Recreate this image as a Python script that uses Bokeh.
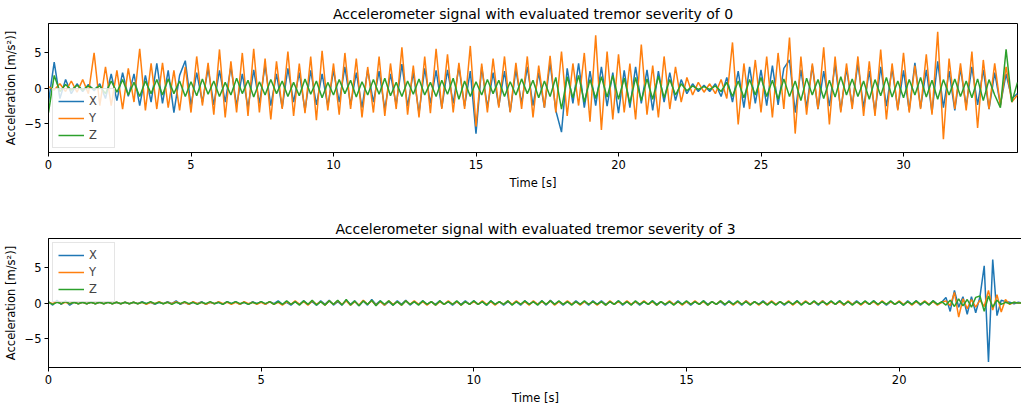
import numpy as np
from bokeh.plotting import figure
from bokeh.layouts import column
from bokeh.models import Range1d, FixedTicker, Legend, LegendItem
from bokeh.embed import file_html
from bokeh.resources import INLINE

# ---------------- data: severity 0 (sampled every 0.2 s, 0 .. 34 s) ----------------
dt_top = 0.2
top_x = [
    -2.0, 3.7, -1.5, 1.2, -0.8, 0.6, -0.5, 0.5, -0.4, 0.6,
    -1.5, 2.0, -1.8, 2.2, -1.2, 2.0, -2.5, 1.8, -2.0, 3.5,
    -2.2, 2.5, -3.5, 1.8, 3.9, -2.5, 2.2, -2.0, 2.8, -2.4,
    2.5, -2.0, 3.0, -2.5, 2.0, -2.8, 2.6, -2.2, 3.2, -2.5,
    2.0, -2.8, 2.8, -2.0, 2.2, -3.2, 2.5, -2.4, 2.0, -2.6,
    2.5, -2.0, 3.0, -2.4, 2.2, -2.8, 2.6, -2.0, 2.4, -3.0,
    2.0, -2.4, 3.4, -2.6, 2.2, -3.6, 2.8, -2.2, 2.5, -2.8,
    2.6, -2.2, 3.0, -2.6, 2.4, -6.5, 3.0, -2.8, 2.2, -2.6,
    2.4, -3.4, 2.6, -2.2, 3.0, -2.5, 2.2, -2.8, 3.6, -3.2,
    -6.3, 2.8, -2.2, 3.5, -2.8, 2.4, -2.5, 3.0, -2.6, 2.2,
    -3.6, 2.5, -2.8, 3.0, -2.2, 2.6, -3.2, 2.4, -2.0, 2.2,
    -1.8, 1.2, -0.8, 0.6, -0.5, 0.4, -0.5, 0.6, -1.2, 1.5,
    -2.0, 2.4, -2.8, 3.0, -2.2, 2.6, -2.5, 3.2, -2.4, 2.8,
    4.0, -3.5, 2.6, -2.8, 3.2, -3.0, 2.4, -2.6, 3.4, -3.2,
    2.8, -2.5, 3.5, -2.8, 2.4, -3.4, 3.0, -2.6, 2.8, -3.0,
    2.5, -3.2, 3.6, -2.8, 2.6, -3.5, 3.8, -2.8, 2.4, -3.2,
    2.8, -2.6, 3.0, -2.4, 2.6, -3.0, 2.2, -2.4, 2.0, -1.5,
    -0.8,
]
top_y = [
    0.2, -0.3, 0.6, -0.5, 1.0, -0.6, 1.2, -0.8, 5.0, -2.5,
    3.0, -2.5, 2.5, -3.0, 2.8, -2.0, 5.6, -3.2, 3.5, -3.0,
    3.6, -2.8, 2.5, -3.2, 3.0, -3.5, 4.5, -2.5, 3.6, -3.8,
    5.5, -4.2, 3.8, -3.5, 5.0, -4.0, 5.6, -3.5, 4.2, -4.5,
    3.8, -3.0, 5.2, -4.0, 3.5, -3.6, 4.5, -4.6, 5.3, -3.2,
    3.5, -3.8, 5.0, -3.0, 4.2, -4.2, 3.0, -3.5, 4.5, -4.0,
    3.5, -3.0, 5.8, -3.8, 3.2, -4.2, 4.5, -3.6, 5.6, -3.0,
    4.8, -3.5, 3.6, -3.0, 6.0, -5.5, 3.5, -3.5, 4.2, -2.8,
    4.5, -3.5, 3.6, -3.0, 4.5, -4.2, 3.2, -2.8, 4.6, -3.5,
    5.2, -4.0, 3.5, -2.5, 5.0, -4.8, 7.5, -6.0, 5.2, -4.5,
    4.8, -3.5, 3.5, -4.5, 6.2, -3.8, 3.2, -4.2, 4.5, -3.0,
    3.0, -2.0, 1.5, -1.0, 0.8, -0.6, 0.6, -0.8, 1.2, -1.5,
    6.5, -5.2, 3.5, -3.0, 4.0, -3.5, 4.5, -4.2, 5.0, -3.0,
    7.2, -6.5, 4.5, -3.8, 3.5, -3.0, 5.8, -5.2, 4.5, -3.5,
    3.5, -3.0, 4.5, -4.0, 3.8, -4.0, 5.5, -4.5, 3.5, -3.2,
    5.0, -3.5, 3.2, -3.0, 4.8, -3.8, 8.0, -7.3, 4.2, -3.0,
    3.5, -3.2, 5.2, -5.7, 4.0, -3.0, 3.5, -2.5, 3.0, -2.0,
    -1.0,
]
top_z = [
    -3.5, 1.8, -0.5, 0.5, -0.3, 0.4, -0.3, 0.3, -0.2, 0.3,
    -0.8, 1.0, -0.6, 1.2, -1.0, 0.8, -1.2, 1.0, -0.8, 1.2,
    -1.0, 1.3, -0.8, 1.0, -1.2, 0.9, -1.1, 1.3, -0.9, 1.0,
    -1.2, 0.8, -1.0, 1.4, -0.8, 1.1, -1.3, 0.9, -1.0, 1.2,
    -0.8, 1.0, -1.2, 0.8, -1.1, 1.3, -0.9, 1.0, -1.4, 0.8,
    -1.0, 1.2, -0.8, 1.1, -1.3, 0.9, -1.0, 1.2, -0.9, 1.4,
    -1.1, 0.8, -1.2, 1.0, -0.9, 1.3, -1.0, 0.8, -1.2, 1.1,
    -0.9, 1.4, -1.6, 1.0, -1.2, 0.9, -1.0, 1.2, -0.8, 1.1,
    -1.2, 0.9, -1.0, 1.3, -0.8, 1.1, -1.4, 1.0, -1.2, 1.5,
    -3.0, 1.6, -1.4, 1.8, -2.0, 1.2, -1.5, 1.6, -1.3, 1.8,
    -1.6, 1.4, -2.2, 1.5, -1.8, 1.3, -1.6, 1.7, -1.4, 1.2,
    -1.0, 0.6, -0.4, 0.3, -0.2, 0.2, -0.2, 0.3, -0.5, 0.8,
    -1.2, 1.0, -1.4, 1.2, -1.0, 1.5, -1.2, 1.1, -1.6, 1.3,
    -1.2, 1.0, -1.8, 1.4, -1.0, 1.2, -1.5, 1.1, -1.3, 1.6,
    -1.0, 1.3, -1.2, 1.0, -1.6, 1.2, -1.1, 1.5, -1.3, 1.0,
    -1.4, 1.2, -1.0, 1.5, -1.3, 1.1, -1.6, 1.2, -1.0, 1.3,
    -1.2, 1.0, -1.4, 1.3, -1.8, 1.2, -1.0, -2.8, 5.5, -2.0,
    0.8,
]

# ---------------- data: severity 3 (sampled every 0.1 s, 0 .. 22.9 s) ----------------
dt_bot = 0.1
bot_x = [
    0.2, -0.3, 0.4, -0.2, 0.3, -0.3, 0.1, -0.1, 0.1, -0.1,
    0.1, -0.1, 0.1, -0.1, 0.1, -0.1, 0.1, -0.1, 0.1, -0.1,
    0.1, -0.1, 0.2, -0.1, 0.1, -0.2, 0.1, -0.1, 0.2, -0.1,
    0.3, -0.2, 0.1, -0.2, 0.1, -0.1, 0.2, -0.2, 0.1, -0.1,
    0.1, -0.2, 0.2, -0.1, 0.2, -0.2, 0.1, -0.2, 0.2, -0.1,
    0.2, -0.2, 0.2, -0.1, 0.3, -0.2, 0.1, -0.3, 0.2, -0.2,
    0.3, -0.2, 0.2, -0.3, 0.3, -0.2, 0.4, -0.3, 0.2, -0.3,
    0.4, -0.2, 0.3, -0.4, 0.3, -0.3, 0.5, -0.2, 0.3, -0.3,
    0.2, -0.3, 0.3, -0.2, 0.4, -0.3, 0.2, -0.2, 0.3, -0.2,
    0.2, -0.2, 0.3, -0.2, 0.2, -0.3, 0.2, -0.2, 0.3, -0.2,
    0.3, -0.2, 0.2, -0.3, 0.3, -0.2, 0.2, -0.3, 0.2, -0.2,
    0.2, -0.3, 0.3, -0.2, 0.2, -0.2, 0.3, -0.3, 0.4, -0.2,
    0.2, -0.3, 0.2, -0.2, 0.3, -0.2, 0.2, -0.3, 0.3, -0.2,
    0.3, -0.2, 0.2, -0.2, 0.3, -0.3, 0.2, -0.2, 0.2, -0.3,
    0.2, -0.2, 0.3, -0.2, 0.2, -0.3, 0.2, -0.2, 0.3, -0.2,
    0.2, -0.3, 0.2, -0.2, 0.3, -0.2, 0.2, -0.2, 0.2, -0.3,
    0.3, -0.2, 0.2, -0.3, 0.3, -0.2, 0.2, -0.2, 0.3, -0.2,
    0.2, -0.2, 0.2, -0.3, 0.2, -0.2, 0.3, -0.2, 0.2, -0.2,
    0.2, -0.3, 0.3, -0.2, 0.2, -0.2, 0.3, -0.3, 0.2, -0.2,
    0.3, -0.2, 0.2, -0.2, 0.3, -0.2, 0.2, -0.3, 0.2, -0.2,
    0.2, -0.3, 0.3, -0.2, 0.3, -0.3, 0.2, -0.2, 0.3, -0.2,
    0.1, 0.8, -1.2, 1.8, -0.6, 0.9, -1.6, 0.9, -1.4, 0.9,
    5.3, -8.4, 6.2, -1.8, 0.4, 0.2, 0.1, -0.1, 0.1, 0.0,
]
bot_y = [
    0.1, -0.1, 0.2, -0.1, 0.1, -0.1, 0.1, -0.1, 0.1, -0.1,
    0.1, -0.1, 0.1, -0.1, 0.1, -0.1, 0.1, -0.1, 0.1, -0.1,
    0.1, -0.1, 0.1, -0.2, 0.1, -0.1, 0.2, -0.1, 0.1, -0.1,
    0.2, -0.1, 0.1, -0.2, 0.2, -0.1, 0.1, -0.2, 0.1, -0.1,
    0.2, -0.1, 0.1, -0.2, 0.1, -0.2, 0.2, -0.1, 0.1, -0.2,
    0.1, -0.2, 0.2, -0.2, 0.1, -0.3, 0.2, -0.2, 0.3, -0.2,
    0.2, -0.3, 0.3, -0.2, 0.2, -0.3, 0.3, -0.2, 0.3, -0.2,
    0.3, -0.3, 0.2, -0.3, 0.4, -0.2, 0.3, -0.3, 0.2, -0.3,
    0.3, -0.2, 0.2, -0.3, 0.3, -0.2, 0.3, -0.2, 0.2, -0.3,
    0.2, -0.3, 0.2, -0.2, 0.3, -0.2, 0.2, -0.3, 0.2, -0.2,
    0.2, -0.2, 0.3, -0.2, 0.2, -0.3, 0.2, -0.2, 0.3, -0.2,
    0.3, -0.2, 0.2, -0.3, 0.3, -0.2, 0.2, -0.2, 0.3, -0.3,
    0.2, -0.2, 0.3, -0.2, 0.2, -0.3, 0.2, -0.2, 0.2, -0.3,
    0.2, -0.3, 0.3, -0.2, 0.2, -0.2, 0.3, -0.2, 0.2, -0.2,
    0.3, -0.2, 0.2, -0.3, 0.2, -0.2, 0.3, -0.2, 0.2, -0.3,
    0.2, -0.2, 0.3, -0.2, 0.2, -0.3, 0.2, -0.2, 0.3, -0.2,
    0.2, -0.3, 0.2, -0.2, 0.3, -0.2, 0.2, -0.3, 0.2, -0.2,
    0.3, -0.2, 0.2, -0.2, 0.3, -0.3, 0.2, -0.2, 0.3, -0.2,
    0.2, -0.2, 0.3, -0.3, 0.2, -0.2, 0.2, -0.3, 0.3, -0.2,
    0.2, -0.3, 0.2, -0.2, 0.2, -0.3, 0.3, -0.2, 0.2, -0.2,
    0.3, -0.2, 0.2, -0.3, 0.2, -0.2, 0.3, -0.2, 0.2, -0.3,
    0.1, 0.3, -0.4, 1.5, -2.0, 0.6, -0.8, 0.5, -0.6, 0.4,
    -0.5, 1.8, -1.0, 1.2, -1.3, 0.5, -0.2, 0.1, 0.0, 0.0,
]
bot_z = [
    0.1, -0.2, 0.1, -0.1, 0.2, -0.1, 0.1, -0.1, 0.1, -0.1,
    0.1, -0.1, 0.1, -0.1, 0.1, -0.1, 0.1, -0.1, 0.1, -0.1,
    0.1, -0.1, 0.1, -0.1, 0.2, -0.1, 0.1, -0.1, 0.1, -0.2,
    0.1, -0.1, 0.2, -0.1, 0.1, -0.2, 0.1, -0.1, 0.2, -0.1,
    0.1, -0.2, 0.2, -0.1, 0.2, -0.1, 0.1, -0.2, 0.1, -0.1,
    0.2, -0.1, 0.2, -0.2, 0.2, -0.2, 0.3, -0.2, 0.2, -0.3,
    0.3, -0.2, 0.4, -0.3, 0.2, -0.3, 0.3, -0.2, 0.4, -0.3,
    0.5, -0.3, 0.3, -0.4, 0.3, -0.2, 0.4, -0.4, 0.3, -0.2,
    0.3, -0.3, 0.2, -0.3, 0.3, -0.2, 0.2, -0.3, 0.3, -0.2,
    0.2, -0.3, 0.3, -0.2, 0.2, -0.2, 0.3, -0.3, 0.2, -0.2,
    0.3, -0.2, 0.2, -0.3, 0.3, -0.2, 0.2, -0.2, 0.3, -0.3,
    0.2, -0.2, 0.3, -0.2, 0.2, -0.3, 0.3, -0.2, 0.3, -0.2,
    0.3, -0.2, 0.2, -0.3, 0.2, -0.2, 0.3, -0.2, 0.2, -0.2,
    0.2, -0.3, 0.2, -0.2, 0.3, -0.2, 0.2, -0.3, 0.3, -0.2,
    0.2, -0.2, 0.3, -0.3, 0.2, -0.2, 0.2, -0.3, 0.2, -0.2,
    0.3, -0.2, 0.2, -0.2, 0.3, -0.3, 0.2, -0.2, 0.3, -0.2,
    0.2, -0.2, 0.3, -0.2, 0.2, -0.3, 0.2, -0.2, 0.2, -0.3,
    0.2, -0.3, 0.2, -0.2, 0.2, -0.2, 0.3, -0.3, 0.2, -0.2,
    0.3, -0.2, 0.2, -0.2, 0.3, -0.2, 0.3, -0.2, 0.2, -0.3,
    0.2, -0.2, 0.3, -0.2, 0.3, -0.2, 0.2, -0.2, 0.3, -0.2,
    0.2, -0.3, 0.2, -0.2, 0.3, -0.2, 0.2, -0.3, 0.3, -0.2,
    0.2, -0.3, 0.4, -0.5, 0.6, -0.4, 0.5, -0.6, 0.8, 1.0,
    -1.2, 1.0, -0.6, 0.4, -0.2, 0.1, -0.1, 0.1, 0.0, 0.0,
]

titles = ["Accelerometer signal with evaluated tremor severity of 0",
          "Accelerometer signal with evaluated tremor severity of 3"]
series_names = ["X", "Y", "Z"]
colors = ["#1f77b4", "#ff7f0e", "#2ca02c"]
x_ticks = [0, 5, 10, 15, 20, 25, 30]
y_ticks = [-5, 0, 5]
y_tick_labels = {-5: "\u22125", 0: "0", 5: "5"}

FONT = "DejaVu Sans"


def make_plot(title, t, series, xmax, legend_loc, border_left, frame_w, border_top, border_bottom):
    p = figure(frame_width=frame_w, frame_height=129, output_backend="svg",
               toolbar_location=None, min_border_left=border_left, min_border_right=1021 - border_left - frame_w,
               min_border_top=border_top, min_border_bottom=border_bottom,
               x_range=Range1d(0, xmax), y_range=Range1d(-9.2, 9.2))
    p.title.text = title
    p.title.align = "center"
    p.title.text_font = FONT
    p.title.text_font_size = "14px"
    p.title.text_font_style = "normal"
    p.title.text_color = "#000000"
    p.title.standoff = 3
    p.grid.visible = False
    p.outline_line_color = "#000000"
    p.outline_line_width = 1
    p.outline_line_alpha = 1.0
    renderers = []
    for vals, c in zip(series, colors):
        r = p.line(t, vals, line_color=c, line_width=1.5)
        renderers.append(r)
    p.xaxis.ticker = FixedTicker(ticks=x_ticks)
    p.yaxis.ticker = FixedTicker(ticks=y_ticks)
    p.yaxis.major_label_overrides = y_tick_labels
    p.xaxis.axis_label = "Time [s]"
    p.yaxis.axis_label = "Acceleration [m/s\u00b2)]"
    for ax in (p.xaxis[0], p.yaxis[0]):
        ax.axis_label_text_font = FONT
        ax.axis_label_text_font_size = "11.5px"
        ax.axis_label_text_font_style = "normal"
        ax.axis_label_text_color = "#000000"
        ax.major_label_text_font = FONT
        ax.major_label_text_font_size = "11.5px"
        ax.major_label_text_color = "#000000"
        ax.minor_tick_line_color = None
        ax.major_tick_in = 0
        ax.major_tick_out = 4
        ax.major_tick_line_color = "#000000"
        ax.axis_line_color = "#000000"
        ax.major_label_standoff = 3
        ax.axis_label_standoff = 4
    legend = Legend(items=[LegendItem(label=n, renderers=[r]) for n, r in zip(series_names, renderers)],
                    location=legend_loc, label_text_font=FONT, label_text_font_size="11.5px",
                    glyph_width=26, glyph_height=14, label_height=14, spacing=3,
                    padding=5, margin=4, border_line_color="#cccccc", border_line_width=1,
                    background_fill_alpha=0.8)
    p.add_layout(legend)
    return p


t_top = np.arange(len(top_x)) * dt_top
t_bot = np.arange(len(bot_x)) * dt_bot

p1 = make_plot(titles[0], t_top, [top_x, top_y, top_z], 34.0, "bottom_left", 48, 969, 23, 53)
p2 = make_plot(titles[1], t_bot, [bot_x, bot_y, bot_z], 22.9, "top_left", 46, 974, 33, 36)

layout = column(p1, p2, spacing=0)
open("out.html", "w").write(file_html(layout, INLINE))
